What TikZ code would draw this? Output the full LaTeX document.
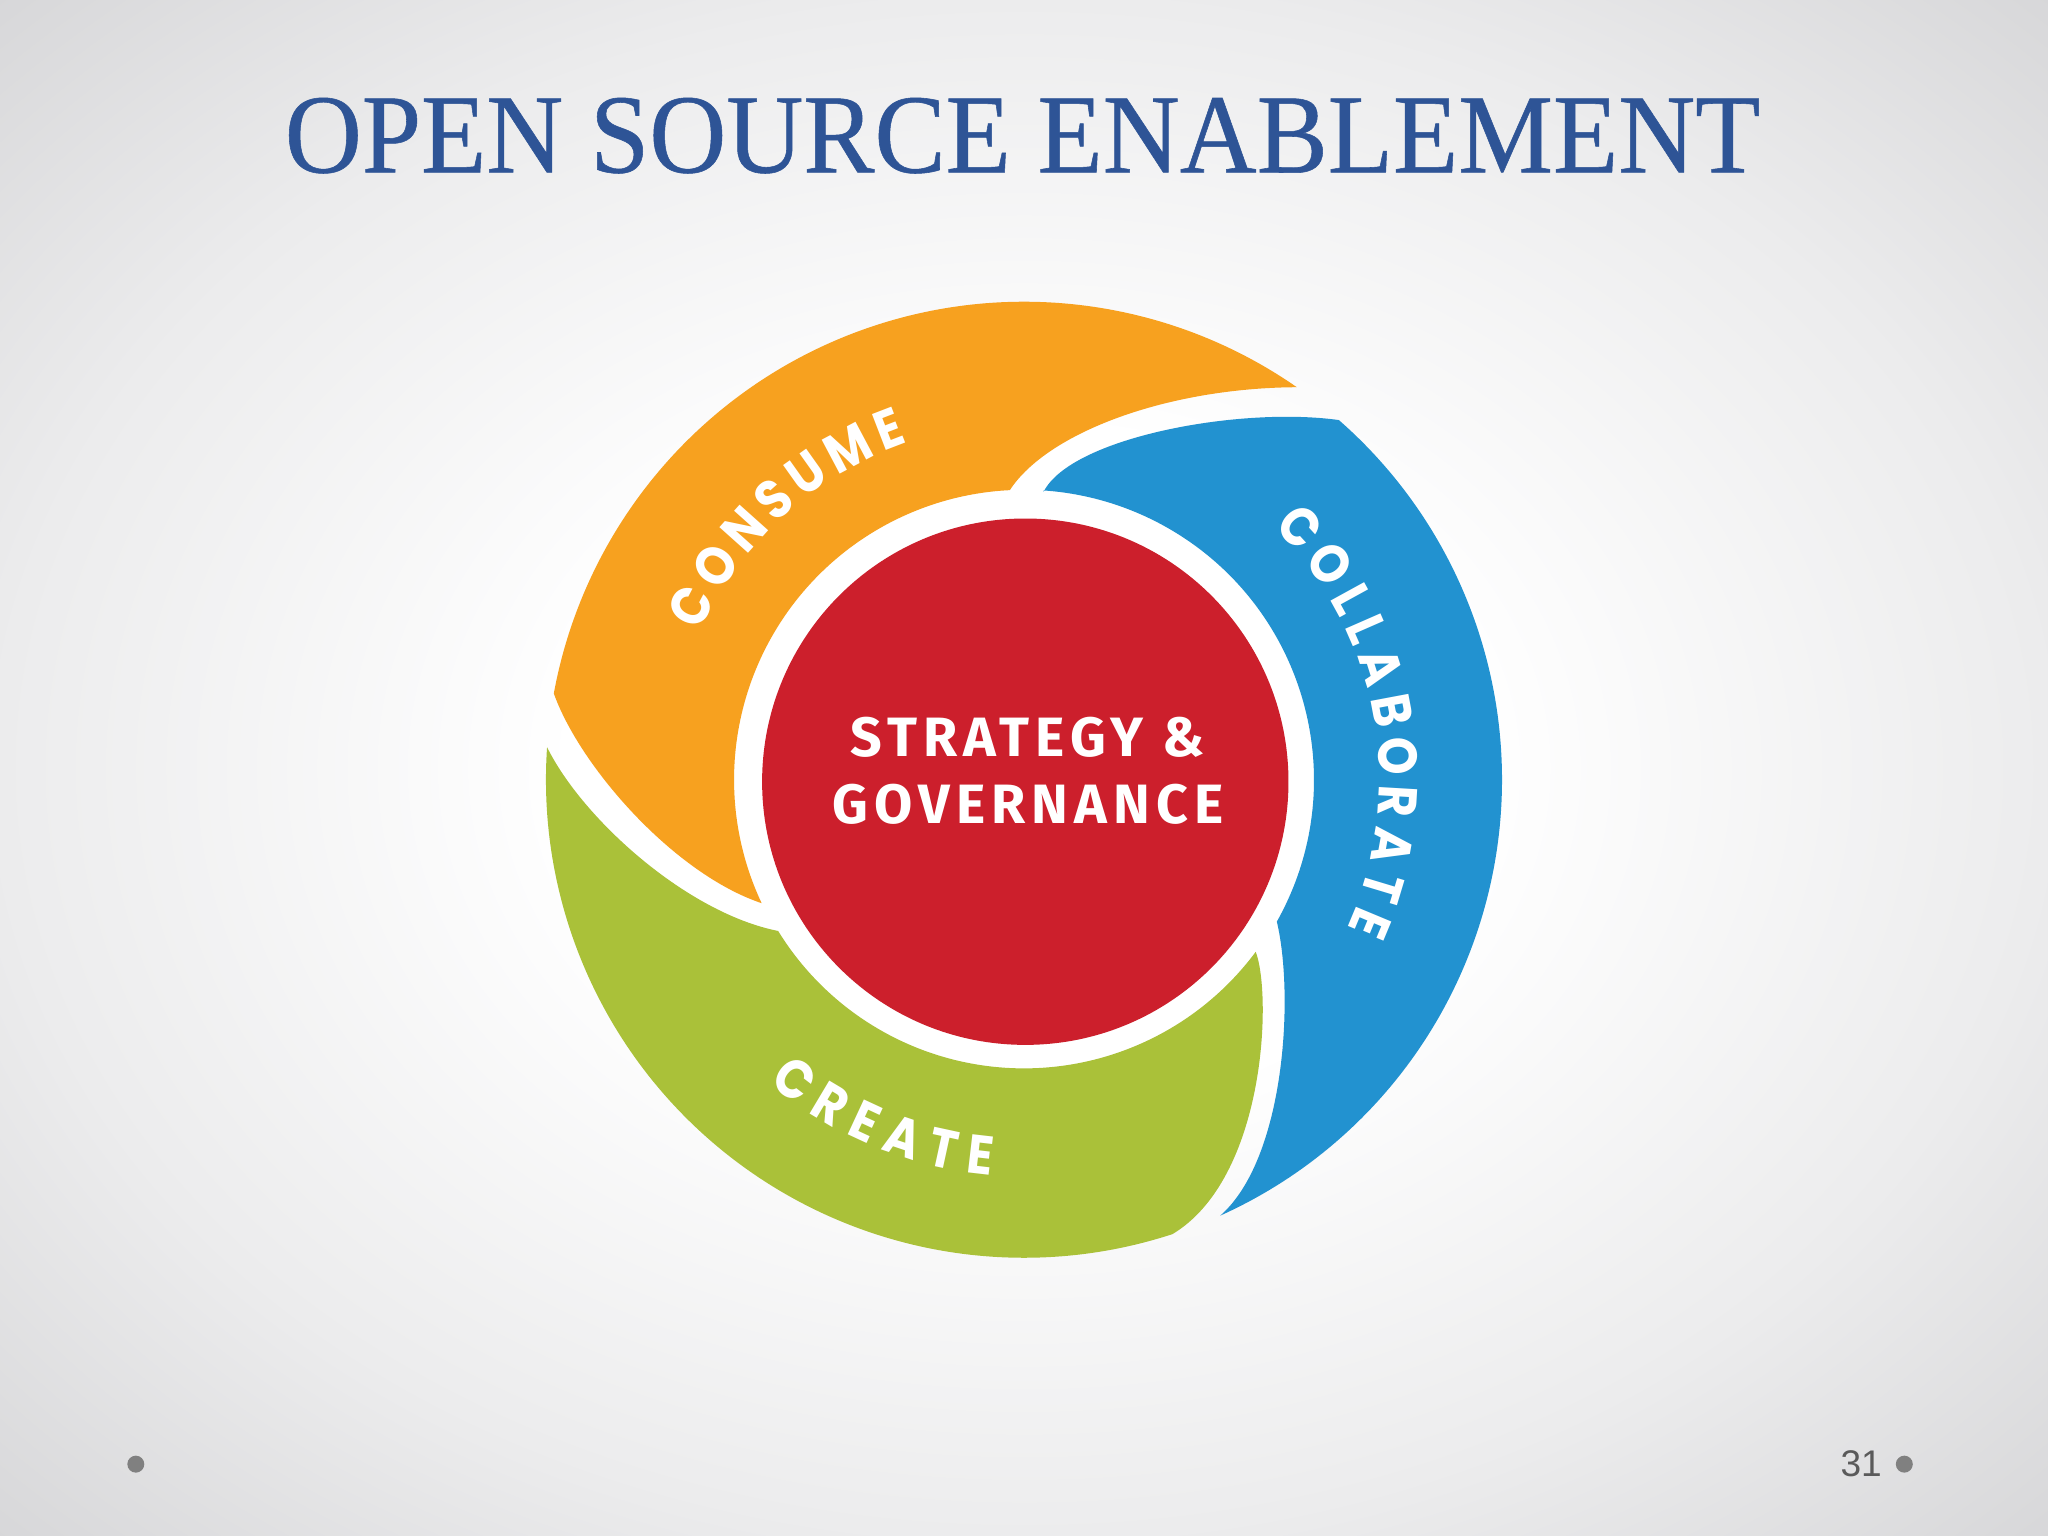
\documentclass[tikz,border=0pt]{standalone}
\usepackage{fontspec}
\setmainfont{Liberation Serif}
\newfontfamily\titlefont{Liberation Serif}[FakeBold=0.5]
\newfontfamily\labfont{Poppins}[FakeStretch=0.88]
\newfontfamily\centerfont{Fira Sans}[LetterSpace=11]
\newfontfamily\numfont{Liberation Sans}
\usetikzlibrary{decorations.text}
\definecolor{titleblue}{RGB}{46,84,150}
\definecolor{corange}{RGB}{247,161,31}
\definecolor{cblue}{RGB}{34,146,208}
\definecolor{cgreen}{RGB}{170,193,57}
\definecolor{cred}{RGB}{204,31,44}
\definecolor{bgmid}{RGB}{236,236,237}
\definecolor{bgedge}{RGB}{214,214,216}
\definecolor{dotgray}{RGB}{128,128,128}
\definecolor{numgray}{RGB}{90,90,90}
\pgfdeclareradialshading{slidebg}{\pgfpoint{0bp}{0bp}}{color(0bp)=(white); color(11bp)=(white); color(25bp)=(bgmid); color(36bp)=(bgedge); color(50bp)=(bgedge)}
\tikzset{
  titletext/.style={text=titleblue, font=\titlefont\fontsize{31.9}{36}\selectfont, inner sep=0pt},
  centertext/.style={text=white, font=\centerfont\bfseries\fontsize{15.7}{16}\selectfont, inner sep=0pt},
  numtext/.style={text=numgray, font=\numfont\fontsize{10.5}{11}\selectfont, inner sep=0pt},
  arclabel/.style={decorate, decoration={text along path, text color=white, text align={fit to path}, text={|\labfont\bfseries\fontsize{15.5}{15.5}\selectfont|#1}}},
  dot/.style={fill=dotgray}
}
\begin{document}
\begin{tikzpicture}[x=0.013cm, y=0.013cm]
\useasboundingbox (-784,-579) rectangle (784,597);
\shade[shading=slidebg] (-784,-579) rectangle (784,597);

% title
\node[titletext, anchor=base] (title) at (-1,465) {\scalebox{0.947}[1]{OPEN SOURCE ENABLEMENT}};

% orange segment (CONSUME)
\fill[corange] (55.2:366) arc[start angle=55.2, end angle=169.6, radius=366]
  .. controls (-340,10) and (-268,-72) .. (205.2:222)
  arc[start angle=205.2, end angle=92.8, radius=222]
  .. controls (18,266) and (110,300) .. (55.2:366)
  -- cycle;

% blue segment (COLLABORATE)
\fill[cblue] (86.1:221)
  .. controls (36,262) and (165,286) .. (48.8:366)
  arc[start angle=48.8, end angle=-65.75, radius=366]
  .. controls (200,-290) and (207,-165) .. (-29.3:222)
  arc[start angle=-29.3, end angle=86.1, radius=222]
  -- cycle;

% green segment (CREATE)
\fill[cgreen] (176.1:366) arc[start angle=176.1, end angle=288.1, radius=366]
  .. controls (185,-305) and (190,-165) .. (-36.6:221)
  arc[start angle=-36.6, end angle=-148.4, radius=221]
  .. controls (-258,-102) and (-338,-30) .. (176.1:366)
  -- cycle;

% centre
\fill[cred] (1,-1.5) circle[radius=201.5];
\node[centertext, anchor=base] (strat) at (3,17.6) {STRATEGY \&};
\node[centertext, anchor=base] (gov) at (3,-33.3) {GOVERNANCE};

% curved labels
\path[arclabel=CONSUME] (155.4:273) arc[start angle=155.4, end angle=109, radius=273];
\path[arclabel=COLLABORATE] (45.5:272) arc[start angle=45.5, end angle=-24.7, radius=272];
\path[arclabel=CREATE] (229.85:303.5) arc[start angle=229.85, end angle=265.3, radius=303.5];

% footer
\fill[dot] (-680,-524) circle[radius=6.5];
\fill[dot] (674,-524) circle[radius=6.5];
\node[numtext] (num) at (641,-524) {31};
\end{tikzpicture}
\end{document}
